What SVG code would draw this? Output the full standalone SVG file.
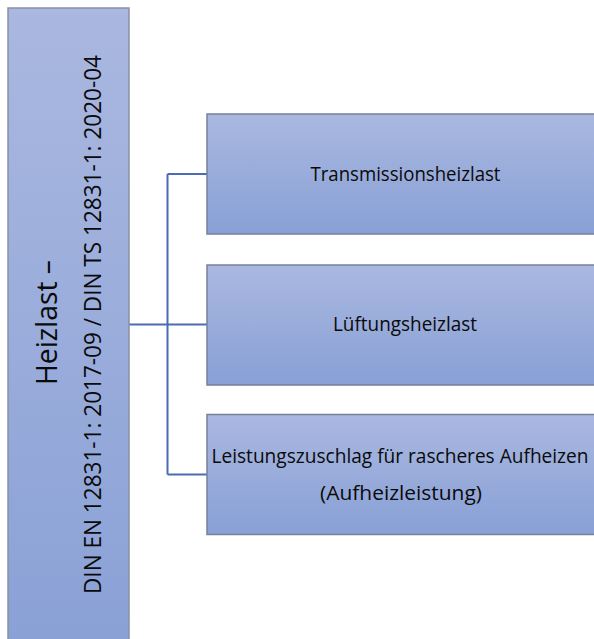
<svg xmlns="http://www.w3.org/2000/svg" width="594" height="639" viewBox="0 0 594 639">
  <style>
    .box { fill: url(#g); stroke: #76819a; stroke-width: 1.5; }
    .t { font-family: "Open Sans", "Noto Sans", "Liberation Sans", sans-serif; fill: #0a0a0a; text-anchor: middle; }
    .conn { fill: none; stroke: #4a6cb3; stroke-width: 2; }
  </style>
  <defs>
    <linearGradient id="g" x1="0" y1="0" x2="0" y2="1">
      <stop offset="0" stop-color="#aab8e0"/>
      <stop offset="1" stop-color="#88a0d6"/>
    </linearGradient>
    <linearGradient id="g2" x1="0" y1="0" x2="0" y2="1">
      <stop offset="0" stop-color="#aab8e0"/>
      <stop offset="1" stop-color="#8aa1d6"/>
    </linearGradient>
  </defs>
  <rect width="594" height="639" fill="#ffffff"/>

  <g id="connectors">
    <path class="conn" d="M129,324.5 H167.5"/>
    <path class="conn" d="M167.5,174 V474.5"/>
    <path class="conn" d="M167.5,174 H207"/>
    <path class="conn" d="M167.5,324.5 H207"/>
    <path class="conn" d="M167.5,474.5 H207"/>
  </g>

  <g id="root">
    <rect x="8" y="8" width="121" height="640" fill="url(#g2)" stroke="#8a90a3" stroke-width="1.5"/>
    <text class="t" transform="translate(56.5,322.5) rotate(-90)" font-size="29.5" textLength="125" lengthAdjust="spacingAndGlyphs">Heizlast –</text>
    <text class="t" transform="translate(101,324.5) rotate(-90)" font-size="23.5" textLength="539" lengthAdjust="spacingAndGlyphs">DIN EN 12831-1: 2017-09 / DIN TS 12831-1: 2020-04</text>
  </g>

  <g id="transmission">
    <rect class="box" x="207" y="114" width="400" height="120"/>
    <text class="t" x="405.5" y="181" font-size="20.5" textLength="190" lengthAdjust="spacingAndGlyphs">Transmissionsheizlast</text>
  </g>

  <g id="lueftung">
    <rect class="box" x="207" y="265" width="400" height="120"/>
    <text class="t" x="405" y="330.5" font-size="20.5" textLength="144" lengthAdjust="spacingAndGlyphs">Lüftungsheizlast</text>
  </g>

  <g id="aufheiz">
    <rect class="box" x="207" y="414.5" width="400" height="120"/>
    <text class="t" x="400" y="463" font-size="20.5" textLength="377" lengthAdjust="spacingAndGlyphs">Leistungszuschlag für rascheres Aufheizen</text>
    <text class="t" x="401" y="499.5" font-size="20.5" textLength="162" lengthAdjust="spacingAndGlyphs">(Aufheizleistung)</text>
  </g>
</svg>
